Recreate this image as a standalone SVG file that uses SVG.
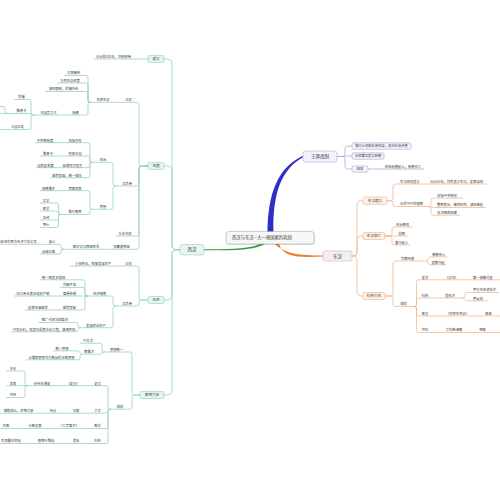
<svg xmlns="http://www.w3.org/2000/svg" width="500" height="500" viewBox="0 0 500 500">
<style>
.t{font-family:"Noto Sans CJK SC","Noto Sans",sans-serif;font-size:3.3px;fill:#404040;text-anchor:middle}
.b{font-size:3.6px}
.h{font-size:4.5px;fill:#333}
.g{stroke:#92d1b0;stroke-width:0.75;fill:none}
.o{stroke:#f2b48c;stroke-width:0.75;fill:none}
.p{stroke:#a7a7de;stroke-width:0.75;fill:none}
.gb{fill:#e4f5ec;stroke:#92d1b0;stroke-width:0.6}
.ob{fill:#fdf0e6;stroke:#f0b08a;stroke-width:0.6}
.pb{fill:#f2f2fb;stroke:#a7a7de;stroke-width:0.6}
</style>
<rect width="500" height="500" fill="#fff"/>
<g id="connectors">
<path d="M267.5,232 C268,205 272,170 303,155.8 L303,157.2 C276,172 273,205 273.5,232 Z" fill="#2f2fc8"/>
<path d="M262,243 C250,249.5 230,249.2 204,249.2 L204,250.2 C230,250.2 252,251.5 267,243 Z" fill="#2f9e44"/>
<path d="M274,243 C284,254 300,255.5 323,255.5 L323,256.5 C300,257.5 282,258 279,243 Z" fill="#f07d2a"/>
<g class="g">
<path d="M180,249.7 H177 Q172,249.7 172,244.7 V64 Q172,59 167,59 H164"/>
<path d="M180,249.7 H177 Q172,249.7 172,244.7 V171 Q172,166 167,166 H164"/>
<path d="M180,249.7 H177 Q172,249.7 172,254.7 V295 Q172,300 167,300 H164"/>
<path d="M180,249.7 H177 Q172,249.7 172,254.7 V390 Q172,395 167,395 H164"/>
<path d="M148,166 H141.5 Q139,166 139,163.5 V104.8 Q139,102.3 136.5,102.3 H136"/>
<path d="M148,166 H141.5 Q139,166 139,168.5 V183.5 Q139,186 136.5,186 H136"/>
<path d="M148,166 H141.5 Q139,166 139,168.5 V233.5 Q139,236 136.5,236 H136"/>
<path d="M148,166 H141.5 Q139,166 139,168.5 V246.8 Q139,249.3 136.5,249.3 H136"/>
<path d="M91,102.3 H90 Q88,102.3 88,100.3 V77.5 Q88,75.5 86,75.5"/>
<path d="M91,102.3 H90 Q88,102.3 88,100.3 V85 Q88,83 86,83"/>
<path d="M91,102.3 H90 Q88,102.3 88,100.3 V93.5 Q88,91.5 86,91.5"/>
<path d="M91,102.3 H90 Q88,102.3 88,104.3 V113 Q88,115 86,115"/>
<path d="M33.5,115 H33 Q31,115 31,113 V101.5 Q31,99.5 29,99.5"/>
<path d="M33.5,115 C31,115 31,113.5 29,113.5"/>
<path d="M33.5,115 H33 Q31,115 31,117 V127.5 Q31,129.5 29,129.5"/>
<path d="M9,113.5 H7 Q5,113.5 5,111.5 V108.5 Q5,106.5 3,106.5 H0"/>
<path d="M116,186 H115.5 Q113,186 113,183.5 V164.8 Q113,162.3 110.5,162.3 H110"/>
<path d="M116,186 H115.5 Q113,186 113,188.5 V206.8 Q113,209.3 110.5,209.3 H110"/>
<path d="M92,162.3 Q90,162.3 90,160.3 V144.7 Q90,142.7 88,142.7"/>
<path d="M92,162.3 Q90,162.3 90,160.3 V158 Q90,156 88,156"/>
<path d="M92,162.3 Q90,162.3 90,164.3 V165.7 Q90,167.7 88,167.7"/>
<path d="M92,162.3 Q90,162.3 90,164.3 V175.7 Q90,177.7 88,177.7"/>
<path d="M92,209.3 Q90,209.3 90,207.3 V192.7 Q90,190.7 88,190.7"/>
<path d="M92,209.3 Q90,209.3 90,211.3 V212.5 Q90,214.5 88,214.5"/>
<path d="M61,214.5 H60.5 Q58.5,214.5 58.5,212.5 V205 Q58.5,203 56.5,203 H56"/>
<path d="M61,214.5 C58.5,214.5 58.5,211 56,211"/>
<path d="M61,214.5 H60.5 Q58.5,214.5 58.5,216.5 V218 Q58.5,220 56.5,220 H56"/>
<path d="M61,214.5 H60.5 Q58.5,214.5 58.5,216.5 V225.5 Q58.5,227.5 56.5,227.5 H56"/>
<path d="M64,249.3 H63 Q61,249.3 61,247.3 V246.3 Q61,244.3 59,244.3 H58"/>
<path d="M64,249.3 H63 Q61,249.3 61,251.3 V252 Q61,254 59,254 H58"/>
<path d="M148,300 H141.5 Q139,300 139,297.5 V268.5 Q139,266 136.5,266 H136"/>
<path d="M148,300 H141.5 Q139,300 139,302.5 V303.5 Q139,306 136.5,306 H136"/>
<path d="M116,306 H115.5 Q113,306 113,303.5 V298.5 Q113,296 110.5,296 H110"/>
<path d="M116,306 H115.5 Q113,306 113,308.5 V325.2 Q113,327.7 110.5,327.7 H110"/>
<path d="M88,296 H87 Q85,296 85,294 V281.8 Q85,279.8 83,279.8 H82"/>
<path d="M88,296 H87 Q85,296 85,294 V289.5 Q85,287.5 83,287.5 H82"/>
<path d="M88,296 H82"/>
<path d="M88,296 H87 Q85,296 85,298 V308 Q85,310 83,310 H82"/>
<path d="M80,327.7 Q78,327.7 78,325.7 V324.5 Q78,322.5 76,322.5 H75"/>
<path d="M80,327.7 Q78,327.7 78,329.7 V329.8 Q78,331.8 76,331.8 H75"/>
<path d="M140,395 H134.5 Q132,395 132,392.5 V354.5 Q132,352 129.5,352 H129"/>
<path d="M140,395 H134.5 Q132,395 132,397.5 V406.7 Q132,409.2 129.5,409.2 H129"/>
<path d="M105,352 H104 Q102,352 102,350 V345.2 Q102,343.2 100,343.2 H99"/>
<path d="M105,352 C102,352 102,354.2 99,354.2"/>
<path d="M82,354.2 C80,354.2 80,350.8 77,350.8"/>
<path d="M82,354.2 Q80,354.2 80,356.2 V357.8 Q80,359.8 78,359.8 H77"/>
<path d="M111,409.2 H110 Q108,409.2 108,407.2 V387.7 Q108,385.7 106,385.7 H105"/>
<path d="M111,409.2 C108,409.2 108,413.2 105,413.2"/>
<path d="M111,409.2 H110 Q108,409.2 108,411.2 V426.5 Q108,428.5 106,428.5 H105"/>
<path d="M111,409.2 H110 Q108,409.2 108,411.2 V441.5 Q108,443.5 106,443.5 H105"/>
<path d="M28,385.7 H27 Q25,385.7 25,383.7 V373 Q25,371 23,371 H22"/>
<path d="M28,385.7 H22"/>
<path d="M28,385.7 H27 Q25,385.7 25,387.7 V395.5 Q25,397.5 23,397.5 H22"/>
</g>
<g class="o">
<path d="M352,256 H353 Q357,256 357,252 V204.7 Q357,200.7 361,200.7 H363"/>
<path d="M352,256 H353 Q357,256 357,252 V240 Q357,236 361,236 H363"/>
<path d="M352,256 H353 Q357,256 357,260 V292 Q357,296 361,296 H363"/>
<path d="M387,200.7 H390.5 Q393,200.7 393,198.2 V186.5 Q393,184 395.5,184 H396"/>
<path d="M387,200.7 H390.5 Q393,200.7 393,203.2 V204 Q393,206.5 395.5,206.5 H396"/>
<path d="M428,206.5 H429 Q431,206.5 431,204.5 V200.2 Q431,198.2 433,198.2 H434"/>
<path d="M428,206.5 C431,206.5 431,207.5 434,207.5"/>
<path d="M428,206.5 H429 Q431,206.5 431,208.5 V213.2 Q431,215.2 433,215.2 H434"/>
<path d="M385,236 H390 Q392,236 392,234 V229 Q392,227 394,227"/>
<path d="M385,236 H394"/>
<path d="M385,236 H390 Q392,236 392,238 V243 Q392,245 394,245"/>
<path d="M385,296 H390.5 Q393,296 393,293.5 V263.5 Q393,261 395.5,261 H396"/>
<path d="M385,296 H390.5 Q393,296 393,298.5 V304 Q393,306.5 395.5,306.5 H396"/>
<path d="M426,261 C428,261 428,256.8 430,256.8"/>
<path d="M426,261 C428,261 428,264.8 430,264.8"/>
<path d="M414,306.5 H414.5 Q416.5,306.5 416.5,304.5 V281.8 Q416.5,279.8 418.5,279.8 H419"/>
<path d="M414,306.5 H414.5 Q416.5,306.5 416.5,304.5 V300 Q416.5,298 418.5,298 H419"/>
<path d="M414,306.5 H414.5 Q416.5,306.5 416.5,308.5 V314 Q416.5,316 418.5,316 H419"/>
<path d="M414,306.5 H414.5 Q416.5,306.5 416.5,308.5 V330.5 Q416.5,332.5 418.5,332.5 H419"/>
<path d="M462,298 H463 Q465,298 465,296 V294.5 Q465,292.5 467,292.5 H468"/>
<path d="M462,298 C465,298 465,300.8 468,300.8"/>
</g>
<g class="p">
<path d="M337,156.5 H342.5 Q345,156.5 345,154 V148.5 Q345,146 347.5,146 H352"/>
<path d="M337,156.5 C345,156.5 345,156 352,156"/>
<path d="M337,156.5 H342.5 Q345,156.5 345,159 V166.5 Q345,169 347.5,169 H352"/>
</g>
</g>

<g id="root">
<rect x="227" y="232.6" width="88" height="12.5" rx="2.5" fill="#000" opacity="0.1"/>
<rect x="226" y="231.5" width="88" height="12.5" rx="2.5" fill="#f7f7f7" stroke="#9a9a9a" stroke-width="0.5"/>
<text class="t" x="232" y="239.4" style="font-size:4.3px;text-anchor:start;fill:#333">西汉与东汉—大一统国家的巩固</text>
</g>

<!-- West Han -->
<g id="xihan"><rect class="gb" x="180" y="244.5" width="24" height="10.4" rx="2" style="fill:#e9f6f1"/><text class="t h" x="192" y="251.3">西汉</text></g>
<g id="b1"><rect class="gb" x="148" y="55.5" width="16" height="7" rx="1.5"/><text class="t b" x="156" y="60.3">建立</text></g>
<g id="n-gy202"><path class="g" d="M94,59 H148"/><text class="t" x="113.5" y="57.9">公元前202年，刘邦称帝</text></g>
<g id="b2"><rect class="gb" x="148" y="162.5" width="16" height="7" rx="1.5"/><text class="t b" x="156" y="167.3">巩固</text></g>
<g id="n-hanchu1"><path class="g" d="M120,102.3 H136"/><text class="t" x="128.5" y="101.2">汉初</text></g>
<g id="n-xiuyang"><path class="g" d="M91,102.3 H120"/><text class="t" x="103" y="101.2">休养生息</text></g>
<g id="n-hcqz"><path class="g" d="M64,75.5 H86"/><text class="t" x="73.5" y="74.4">汉承秦制</text></g>
<g id="n-ymxx"><path class="g" d="M57,83 H86"/><text class="t" x="70" y="81.9">与民休息政策</text></g>
<g id="n-jjfs"><path class="g" d="M45,91.5 H86"/><text class="t" x="63.5" y="90.4">减轻赋税，提倡节俭</text></g>
<g id="n-yinhuan"><path class="g" d="M62,115 H86"/><text class="t" x="75.5" y="113.9">隐患</text></g>
<g id="n-wgsl"><path class="g" d="M33.5,115 H62"/><text class="t" x="48.5" y="113.9">王国势力大</text></g>
<g id="n-xiaofan"><path class="g" d="M14,99.5 H29"/><text class="t" x="21.5" y="98.4">削藩</text></g>
<g id="n-tuien"><path class="g" d="M0,113.5 H29"/><text class="t" x="21.5" y="112.4">推恩令</text></g>
<g id="n-qiguo"><path class="g" d="M0,129.5 H29"/><text class="t" x="17.5" y="128.4">七国之乱</text></g>
<g id="n-hwd1"><path class="g" d="M116,186 H136"/><text class="t" x="127" y="184.9">汉武帝</text></g>
<g id="n-zhengzhi"><path class="g" d="M92,162.3 H110"/><text class="t" x="103" y="161.2">政治</text></g>
<g id="n-jqhq"><path class="g" d="M62,142.7 H88"/><text class="t" x="75" y="141.6">加强皇权</text></g>
<g id="n-zwc"><path class="g" d="M35,142.7 H62"/><text class="t" x="45" y="141.6">中外朝制度</text></g>
<g id="n-xrwg"><path class="g" d="M62,156 H88"/><text class="t" x="75" y="154.9">削弱王国</text></g>
<g id="n-tel2"><path class="g" d="M40,156 H62"/><text class="t" x="48" y="154.9">推恩令</text></g>
<g id="n-jcdf"><path class="g" d="M60,167.7 H88"/><text class="t" x="72.5" y="166.6">监察地方官员</text></g>
<g id="n-csz"><path class="g" d="M36,167.7 H60"/><text class="t" x="45.5" y="166.6">设刺史制度</text></g>
<g id="n-ytgy"><path class="g" d="M50,177.7 H88"/><text class="t" x="67" y="176.6">盐铁官营，统一铸币</text></g>
<g id="n-sixiang"><path class="g" d="M92,209.3 H110"/><text class="t" x="103" y="208.2">思想</text></g>
<g id="n-bcbj"><path class="g" d="M60,190.7 H88"/><text class="t" x="75" y="189.6">罢黜百家</text></g>
<g id="n-dzrs"><path class="g" d="M40,190.7 H60"/><text class="t" x="48.5" y="189.6">独尊儒术</text></g>
<g id="n-txjy"><path class="g" d="M61,214.5 H88"/><text class="t" x="75" y="213.4">推行教育</text></g>
<g id="n-taixue"><path class="g" d="M40,203 H56"/><text class="t" x="46" y="201.9">太学</text></g>
<g id="n-junxue"><path class="g" d="M40,211 H56"/><text class="t" x="46" y="209.9">郡学</text></g>
<g id="n-wujing"><path class="g" d="M40,220 H56"/><text class="t" x="46" y="218.9">五经</text></g>
<g id="n-boshi"><path class="g" d="M40,227.5 H56"/><text class="t" x="46" y="226.4">博士</text></g>
<g id="n-bjxn"><path class="g" d="M116,236 H136"/><text class="t" x="125" y="234.9">北击匈奴</text></g>
<g id="n-zqtxy"><path class="g" d="M108,249.3 H136"/><text class="t" x="121.5" y="248.2">张骞通西域</text></g>
<g id="n-mqlx"><path class="g" d="M64,249.3 H108"/><text class="t" x="86" y="248.2">密切汉与西域联系</text></g>
<g id="n-yiyi"><path class="g" d="M46,244.3 H58"/><text class="t" x="52" y="243.2">意义</text></g>
<g id="n-cjjl"><path class="g" d="M0,244.3 H46"/><text class="t" x="18.5" y="243.2">促进东西方经济文化交流</text></g>
<g id="n-sczl"><path class="g" d="M40,254 H58"/><text class="t" x="48.5" y="252.9">丝绸之路</text></g>
<g id="b3"><rect class="gb" x="148" y="296.5" width="16" height="7" rx="1.5"/><text class="t b" x="156" y="301.3">经济</text></g>
<g id="n-hanchu2"><path class="g" d="M120,266 H136"/><text class="t" x="128.5" y="264.9">汉初</text></g>
<g id="n-zsny"><path class="g" d="M70,266 H120"/><text class="t" x="93" y="264.9">重视农业，恢复发展生产</text></g>
<g id="n-hwd2"><path class="g" d="M116,306 H136"/><text class="t" x="127" y="304.9">汉武帝</text></g>
<g id="n-jjcs"><path class="g" d="M88,296 H110"/><text class="t" x="99.5" y="294.9">经济措施</text></g>
<g id="n-tyzz"><path class="g" d="M40,279.8 H82"/><text class="t" x="53.5" y="278.7">统一铸造五铢钱</text></g>
<g id="n-jspz"><path class="g" d="M60,287.5 H82"/><text class="t" x="69.5" y="286.4">均输平准</text></g>
<g id="n-smgm"><path class="g" d="M58,296 H82"/><text class="t" x="69.5" y="294.9">算缗告缗</text></g>
<g id="n-xgsy"><path class="g" d="M14,296 H58"/><text class="t" x="33" y="294.9">向工商业者征收财产税</text></g>
<g id="n-ytgy2"><path class="g" d="M58,310 H82"/><text class="t" x="69.5" y="308.9">盐铁官营</text></g>
<g id="n-gjzy"><path class="g" d="M25,310 H58"/><text class="t" x="38" y="308.9">国家专营盐铁</text></g>
<g id="n-fzny"><path class="g" d="M80,327.7 H110"/><text class="t" x="96" y="326.6">发展农业生产</text></g>
<g id="n-tgdt"><path class="g" d="M38,322.5 H75"/><text class="t" x="55" y="321.4">推广代田法和耧车</text></g>
<g id="n-xxsl"><path class="g" d="M11,331.8 H75"/><text class="t" x="44" y="330.7">兴修水利，修建白渠等水利工程，灌溉农田</text></g>
<g id="b4"><rect class="gb" x="140" y="391.5" width="24" height="7" rx="1.5"/><text class="t b" x="152" y="396.3">思想文化</text></g>
<g id="n-sxty"><path class="g" d="M105,352 H129"/><text class="t" x="116.5" y="350.9">思想统一</text></g>
<g id="n-xtx"><path class="g" d="M80,343.2 H99"/><text class="t" x="88" y="342.1">兴太学</text></g>
<g id="n-zrs"><path class="g" d="M82,354.2 H99"/><text class="t" x="89" y="353.1">尊儒术</text></g>
<g id="n-tysx"><path class="g" d="M53,350.8 H77"/><text class="t" x="62" y="349.7">统一思想</text></g>
<g id="n-yrj"><path class="g" d="M26,359.8 H77"/><text class="t" x="51.5" y="358.7">以儒家思想作为统治的正统思想</text></g>
<g id="n-cj1"><path class="g" d="M111,409.2 H129"/><text class="t" x="120" y="408.1">成就</text></g>
<g id="n-shixue"><path class="g" d="M90,385.7 H105"/><text class="t" x="97.5" y="384.6">史学</text></g>
<g id="n-shiji"><path class="g" d="M62,385.7 H90"/><text class="t" x="73" y="384.6">《史记》</text></g>
<g id="n-jzt"><path class="g" d="M28,385.7 H62"/><text class="t" x="42" y="384.6">纪传体通史</text></g>
<g id="n-benji"><path class="g" d="M6,371 H22"/><text class="t" x="13" y="369.9">本纪</text></g>
<g id="n-shijia"><path class="g" d="M6,385.7 H22"/><text class="t" x="13" y="384.6">世家</text></g>
<g id="n-liezhuan"><path class="g" d="M6,397.5 H22"/><text class="t" x="13" y="396.4">列传</text></g>
<g id="n-wenxue"><path class="g" d="M90,413.2 H105"/><text class="t" x="97.5" y="412.1">文学</text></g>
<g id="n-hanfu"><path class="g" d="M66,413.2 H90"/><text class="t" x="76" y="412.1">汉赋</text></g>
<g id="n-tedian"><path class="g" d="M46,413.2 H66"/><text class="t" x="53" y="412.1">特点</text></g>
<g id="n-pcpb"><path class="g" d="M0,413.2 H46"/><text class="t" x="18.5" y="412.1">铺陈排比，辞藻华丽</text></g>
<g id="n-shuxue"><path class="g" d="M90,428.5 H105"/><text class="t" x="97.5" y="427.4">数学</text></g>
<g id="n-jzss"><path class="g" d="M58,428.5 H90"/><text class="t" x="69" y="427.4">《九章算术》</text></g>
<g id="n-fsys"><path class="g" d="M24,428.5 H58"/><text class="t" x="35" y="427.4">分数运算</text></g>
<g id="n-fushu"><path class="g" d="M0,428.5 H24"/><text class="t" x="6" y="427.4">负数</text></g>
<g id="n-keji"><path class="g" d="M90,443.5 H105"/><text class="t" x="97.5" y="442.4">科技</text></g>
<g id="n-zaozhi"><path class="g" d="M66,443.5 H90"/><text class="t" x="76" y="442.4">造纸</text></g>
<g id="n-zwxw"><path class="g" d="M30,443.5 H66"/><text class="t" x="46" y="442.4">植物纤维纸</text></g>
<g id="n-sjzz"><path class="g" d="M0,443.5 H30"/><text class="t" x="11" y="442.4">世界最早的纸</text></g>

<!-- East Han -->
<g id="donghan"><rect x="323" y="251" width="29" height="10" rx="2" fill="#eef0f6" stroke="#f0b08a" stroke-width="0.6"/><text class="t h" x="337.5" y="257.6">东汉</text></g>
<g id="d1"><rect class="ob" x="363" y="197" width="24" height="7.4" rx="1.5"/><text class="t b" x="375" y="201.9">东汉建立</text></g>
<g id="n-dzqjl"><path class="o" d="M396,184 H426"/><text class="t" x="410" y="182.9">东汉政权建立</text></g>
<g id="n-gy25"><path class="o" d="M426,184 H487"/><text class="t" x="456.5" y="182.9">公元25年，刘秀建立东汉，定都洛阳</text></g>
<g id="n-gwzx"><path class="o" d="M396,206.5 H428"/><text class="t" x="411.5" y="205.4">光武中兴的措施</text></g>
<g id="n-jqzy"><path class="o" d="M434,198.2 H463"/><text class="t" x="447" y="197.1">加强中央集权</text></g>
<g id="n-zdlz"><path class="o" d="M434,207.5 H486"/><text class="t" x="460" y="206.4">整顿吏治，精简机构，减轻徭役</text></g>
<g id="n-dcsf"><path class="o" d="M434,215.2 H460"/><text class="t" x="447" y="214.1">多次释放奴婢</text></g>
<g id="d2"><rect class="ob" x="363" y="232.5" width="22" height="7" rx="1.5"/><text class="t b" x="374" y="237.3">东汉衰亡</text></g>
<g id="n-zzha"><path class="o" d="M394,227 H412"/><text class="t" x="402.5" y="225.9">政治黑暗</text></g>
<g id="n-dg"><path class="o" d="M394,236 H408"/><text class="t" x="401.5" y="234.9">党锢</text></g>
<g id="n-hjqy"><path class="o" d="M394,245 H410"/><text class="t" x="401.5" y="243.9">黄巾起义</text></g>
<g id="d3"><rect class="ob" x="363" y="292.5" width="22" height="7" rx="1.5"/><text class="t b" x="374" y="297.3">科技文化</text></g>
<g id="n-zjcb"><path class="o" d="M396,261 H426"/><text class="t" x="407.5" y="259.9">宗教传播</text></g>
<g id="n-fjcr"><path class="o" d="M430,256.8 H447"/><text class="t" x="438.5" y="255.7">佛教传入</text></g>
<g id="n-djxq"><path class="o" d="M430,264.8 H446"/><text class="t" x="438" y="263.7">道教兴起</text></g>
<g id="n-cj2"><path class="o" d="M396,306.5 H414"/><text class="t" x="403.5" y="305.4">成就</text></g>
<g id="n-sx2"><path class="o" d="M419,279.8 H440"/><text class="t" x="425" y="278.7">史学</text></g>
<g id="n-hs"><path class="o" d="M440,279.8 H463"/><text class="t" x="451.5" y="278.7">《汉书》</text></g>
<g id="n-dyb"><path class="o" d="M463,279.8 H500"/><text class="t" x="483" y="278.7">第一部断代史</text></g>
<g id="n-kj2"><path class="o" d="M419,298 H440"/><text class="t" x="425" y="296.9">科技</text></g>
<g id="n-zzs"><path class="o" d="M440,298 H462"/><text class="t" x="450" y="296.9">造纸术</text></g>
<g id="n-clgj"><path class="o" d="M468,292.5 H499"/><text class="t" x="484.5" y="291.4">蔡伦改进造纸术</text></g>
<g id="n-chz"><path class="o" d="M468,300.8 H488"/><text class="t" x="478" y="299.7">蔡侯纸</text></g>
<g id="n-yx2"><path class="o" d="M419,316 H440"/><text class="t" x="425" y="314.9">医学</text></g>
<g id="n-shzbl"><path class="o" d="M440,316 H473"/><text class="t" x="457.5" y="314.9">《伤寒杂病论》</text></g>
<g id="n-ys"><path class="o" d="M473,316 H500"/><text class="t" x="488.5" y="314.9">医圣</text></g>
<g id="n-wk"><path class="o" d="M419,332.5 H440"/><text class="t" x="425" y="331.4">外科</text></g>
<g id="n-htmfs"><path class="o" d="M440,332.5 H470"/><text class="t" x="454" y="331.4">华佗麻沸散</text></g>
<g id="n-sy"><path class="o" d="M470,332.5 H500"/><text class="t" x="482.5" y="331.4">神医</text></g>

<!-- Wang Mang -->
<g id="wangmang"><rect class="pb" x="303" y="151" width="34" height="11" rx="2.5"/><text class="t h" x="320" y="158.1">王莽改制</text></g>
<g id="w1"><rect class="pb" x="352" y="142.8" width="59" height="6.5" rx="1.5"/><text class="t" x="381.5" y="147.2">推行土地和币制改革，激化社会矛盾</text></g>
<g id="w2"><rect class="pb" x="352" y="152.8" width="32" height="6.5" rx="1.5"/><text class="t" x="368" y="157.2">王莽篡汉建立新朝</text></g>
<g id="w3"><rect class="pb" x="352" y="166" width="16" height="6.2" rx="1.5"/><text class="t" x="360" y="170.3">结果</text></g>
<g id="w3c"><path class="p" d="M368,169 H424"/><text class="t" x="403" y="167.9">绿林赤眉起义，新朝灭亡</text></g>
</svg>
